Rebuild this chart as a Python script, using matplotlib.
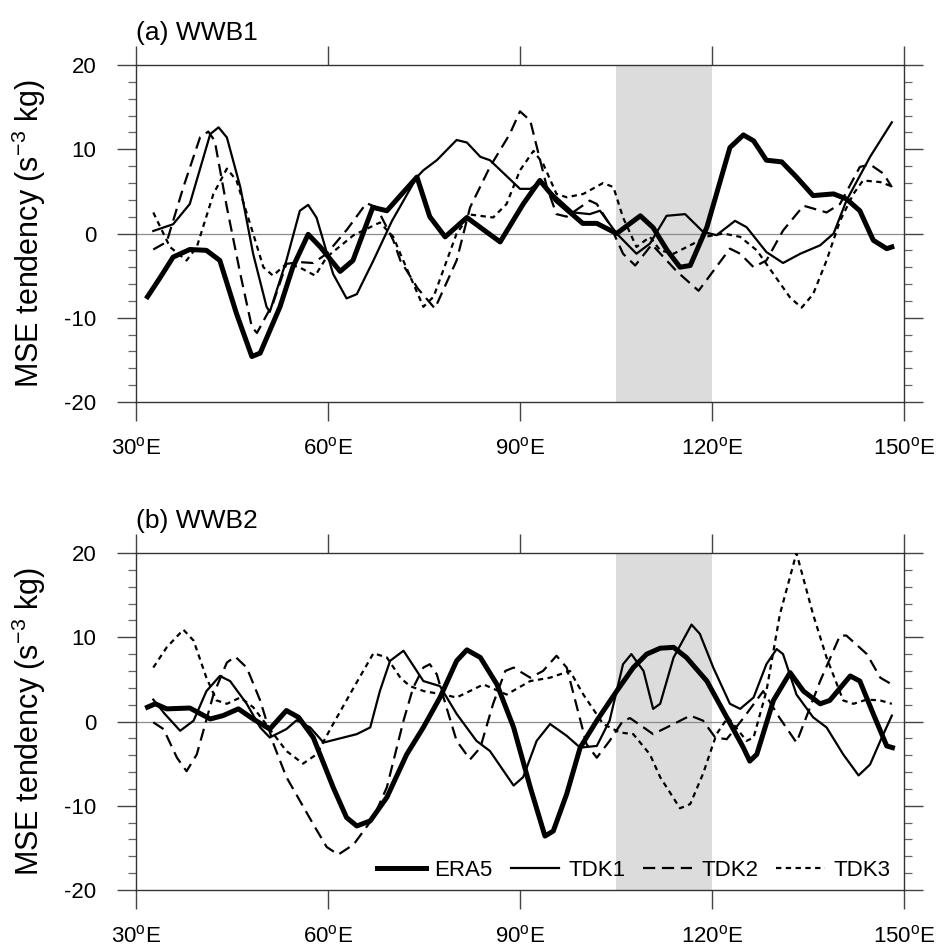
import matplotlib
matplotlib.use('Agg')
import matplotlib.pyplot as plt

plt.rcParams['font.family'] = 'Liberation Sans'
plt.rcParams['mathtext.fontset'] = 'custom'
plt.rcParams['mathtext.rm'] = 'Liberation Sans'
plt.rcParams['mathtext.it'] = 'Liberation Sans:italic'
plt.rcParams['mathtext.default'] = 'regular'
plt.rcParams['axes.unicode_minus'] = False

# ---- panel (a) WWB1 ----
a_era5_lon = [31.8, 33.8, 35.8, 38.4, 41.0, 43.1, 45.7, 48.1, 49.4, 52.5, 54.5, 56.9, 58.8, 61.9, 63.9,
              67.0, 69.2, 71.3, 73.9, 75.9, 78.3, 81.7, 84.2, 86.9, 90.5, 93.1, 95.7, 99.8, 102.0, 105.1,
              108.8, 110.8, 113.0, 115.0, 116.6, 119.2, 122.8, 124.9, 126.5, 128.5, 130.9, 133.2, 135.8,
              139.0, 141.0, 143.1, 145.2, 147.3, 148.1]
a_era5 = [-7.5, -5.2, -2.8, -1.9, -2.0, -3.2, -9.5, -14.6, -14.2, -8.7, -4.0, -0.1, -1.6, -4.5, -3.2,
          3.1, 2.7, 4.5, 6.7, 2.0, -0.4, 1.9, 0.5, -1.0, 3.5, 6.3, 3.9, 1.2, 1.2, 0.0,
          2.1, 0.7, -2.0, -4.0, -3.8, 0.75, 10.2, 11.7, 11.0, 8.7, 8.5, 6.7, 4.5,
          4.7, 4.1, 2.7, -0.8, -1.8, -1.6]

a_tdk1_lon = [32.7, 35.8, 38.4, 41.6, 42.9, 44.2, 46.3, 48.3, 50.4, 50.9, 53.5, 55.6, 56.9, 58.2, 60.8,
              62.9, 64.5, 67.1, 70.0, 73.9, 74.9, 77.0, 80.1, 81.7, 83.8, 85.3, 90.0, 91.6, 93.1, 95.7,
              98.3, 100.9, 102.5, 105.1, 108.2, 110.3, 112.9, 115.8, 118.6, 120.7, 123.6, 125.4, 128.5,
              131.1, 133.8, 136.9, 139.0, 141.0, 144.7, 148.1]
a_tdk1 = [0.3, 1.1, 3.5, 11.8, 12.6, 11.4, 5.5, -2.4, -8.7, -9.3, -3.2, 2.7, 3.4, 1.9, -4.8,
          -7.7, -7.2, -3.2, 1.5, 6.7, 7.5, 8.7, 11.1, 10.8, 9.1, 8.7, 5.3, 5.3, 6.1, 4.3,
          2.5, 2.3, 2.7, 0.0, -2.4, -1.2, 2.1, 2.3, 0.2, -0.2, 1.5, 0.75, -2.2,
          -3.5, -2.4, -1.4, 0.0, 3.9, 9.1, 13.2]

a_tdk2_lon = [32.7, 34.8, 37.4, 40.0, 41.3, 42.3, 44.2, 46.3, 48.1, 48.9, 51.4, 53.5, 55.6, 57.7, 59.8,
              63.0, 66.0, 67.6, 70.2, 71.3, 74.0, 76.7, 80.1, 82.2, 85.3, 88.4, 90.0, 91.6, 94.2, 95.7,
              97.3, 100.9, 102.0, 104.0, 106.1, 108.0, 110.6, 114.5, 117.9, 122.8, 124.4, 126.5, 128.5,
              131.1, 134.3, 137.9, 140.0, 143.1, 144.7, 146.8, 148.1]
a_tdk2 = [-1.9, -1.0, 5.5, 11.4, 12.1, 11.0, 3.1, -4.8, -11.1, -11.8, -8.3, -3.6, -3.4, -3.5, -2.4,
          0.5, 3.6, 3.1, -0.8, -3.2, -6.5, -8.9, -3.2, 3.1, 7.9, 11.8, 14.5, 13.4, 5.5, 2.3,
          2.0, 3.9, 3.5, 1.1, -2.4, -3.8, -1.3, -4.5, -6.8, -1.8, -2.4, -4.0, -3.2,
          0.35, 3.3, 2.5, 3.5, 7.9, 8.2, 7.1, 5.5]

a_tdk3_lon = [32.7, 35.3, 37.9, 39.5, 42.1, 44.2, 45.7, 48.3, 49.9, 51.4, 53.5, 55.5, 58.0, 59.8, 64.0,
              68.1, 70.2, 71.3, 74.9, 76.5, 80.1, 82.2, 85.8, 87.9, 90.0, 92.1, 93.6, 95.7, 97.3, 99.9,
              103.0, 104.6, 106.1, 108.2, 110.3, 111.9, 114.0, 117.1, 119.2, 121.8, 124.4, 127.0, 129.6,
              132.2, 134.0, 135.8, 137.9, 140.0, 142.1, 143.6, 146.3, 148.1]
a_tdk3 = [2.5, -1.6, -3.2, -1.6, 4.7, 7.7, 6.3, 0.0, -4.0, -5.0, -3.6, -4.0, -5.0, -2.8, -0.2,
          1.3, -0.4, -2.4, -8.7, -7.5, 0.0, 2.25, 1.9, 3.5, 7.5, 9.8, 8.3, 4.7, 4.3, 4.7,
          6.0, 5.5, 1.9, -1.6, -0.4, -2.0, -2.4, -1.2, -0.35, 0.0, -0.4, -2.0, -4.8,
          -7.6, -8.8, -7.2, -3.2, 1.5, 4.7, 6.3, 6.1, 5.6]

# ---- panel (b) WWB2 ----
b_era5_lon = [31.8, 33.0, 34.8, 38.4, 41.6, 43.6, 46.0, 48.3, 50.9, 53.5, 55.4, 57.7, 60.8, 62.9, 64.5,
              66.6, 69.2, 72.3, 74.9, 77.5, 80.1, 81.7, 83.8, 86.4, 89.0, 91.6, 93.9, 95.2, 97.3, 99.4,
              102.0, 105.1, 107.7, 109.8, 111.9, 114.0, 116.0, 119.2, 122.3, 124.9, 125.9, 127.0, 129.6,
              132.2, 134.3, 136.9, 138.4, 141.6, 143.1, 145.2, 147.3, 148.2]
b_era5 = [1.7, 2.1, 1.5, 1.6, 0.3, 0.7, 1.5, 0.3, -0.9, 1.3, 0.5, -1.9, -7.8, -11.4, -12.4,
          -11.8, -9.0, -3.9, -0.7, 2.85, 7.2, 8.5, 7.6, 4.4, -0.7, -7.8, -13.6, -13.0, -8.6, -3.1,
          0.1, 3.6, 6.4, 8.0, 8.7, 8.8, 7.6, 4.8, 0.5, -3.1, -4.7, -3.9, 2.5,
          5.8, 3.6, 2.1, 2.5, 5.4, 4.8, 0.9, -2.9, -3.1]

b_tdk1_lon = [32.7, 34.5, 36.9, 39.0, 41.0, 43.1, 44.7, 47.3, 49.4, 50.9, 53.5, 55.1, 57.2, 59.3, 61.9,
              64.5, 66.6, 68.1, 69.7, 71.8, 74.9, 77.5, 80.1, 83.2, 85.3, 89.0, 90.5, 92.6, 94.7, 97.3,
              99.4, 102.0, 104.0, 106.1, 107.4, 109.3, 110.8, 111.9, 114.0, 116.8, 118.1, 120.2, 122.8,
              124.4, 126.5, 128.5, 130.1, 131.1, 133.2, 135.8, 137.9, 140.5, 142.9, 144.7, 146.3, 148.1]
b_tdk1 = [2.6, 0.9, -1.1, 0.1, 3.6, 5.4, 4.8, 2.1, -0.7, -1.9, -0.9, 0.15, -0.7, -2.5, -2.0,
          -1.5, -0.7, 3.6, 7.2, 8.4, 4.8, 4.2, 0.9, -2.3, -3.5, -7.6, -6.6, -2.3, -0.3, -1.7,
          -3.1, -2.9, 0.1, 6.8, 8.0, 6.0, 1.5, 2.1, 7.6, 11.5, 10.4, 6.4, 2.1,
          1.5, 2.85, 6.8, 8.6, 8.0, 3.2, 0.5, -0.7, -3.9, -6.4, -5.1, -2.3, 0.7]

b_tdk2_lon = [32.7, 34.3, 36.4, 37.9, 39.5, 42.1, 44.2, 45.5, 47.3, 49.4, 51.5, 53.5, 55.6, 57.7, 59.8,
              61.6, 64.0, 67.1, 69.2, 71.8, 73.3, 74.9, 75.9, 77.0, 78.5, 80.1, 82.2, 83.8, 85.8, 87.7,
              89.0, 91.6, 93.6, 95.7, 97.3, 98.9, 100.4, 102.0, 104.0, 106.1, 107.2, 109.3, 110.8,
              114.0, 116.6, 118.6, 120.5, 122.3, 125.0, 128.0, 130.5, 133.2, 136.9, 140.0, 141.0,
              144.2, 146.3, 148.1]
b_tdk2 = [-0.1, -0.9, -4.3, -5.9, -3.9, 3.2, 7.0, 7.7, 6.4, 2.5, -2.7, -6.6, -9.4, -12.2, -14.9,
          -15.8, -14.6, -11.4, -7.8, 0.1, 4.0, 6.4, 6.8, 5.6, 1.7, -2.3, -4.5, -3.1, 2.1, 6.0,
          6.4, 5.2, 6.0, 7.8, 6.4, 1.7, -2.7, -4.3, -2.3, 0.1, 0.4, -0.7, -1.5,
          -0.3, 0.7, 0.1, -1.9, -2.1, 0.5, 3.6, 0.5, -2.5, 4.8, 10.2, 10.2,
          8.0, 5.2, 4.4]

b_tdk3_lon = [32.7, 34.8, 37.4, 39.0, 41.0, 42.6, 44.2, 46.3, 48.3, 50.9, 53.5, 56.1, 58.2, 60.8, 64.0,
              67.1, 69.2, 71.3, 72.8, 75.0, 78.0, 80.1, 84.3, 87.9, 91.6, 94.7, 97.8, 99.9, 103.0, 105.6,
              107.7, 110.3, 111.9, 115.0, 116.6, 118.6, 120.7, 122.5, 125.4, 126.5, 128.5, 130.6, 133.2,
              135.8, 137.9, 140.5, 142.1, 144.2, 146.3, 148.1]
b_tdk3 = [6.4, 8.8, 10.9, 9.6, 5.2, 2.5, 2.1, 2.85, 1.7, -0.9, -3.5, -5.0, -3.9, -0.3, 4.0,
          8.1, 7.6, 5.2, 4.2, 3.6, 3.2, 2.85, 4.4, 3.2, 4.8, 5.2, 6.0, 3.2, -0.3, -1.3,
          -1.5, -3.9, -6.6, -10.3, -9.8, -6.2, -1.5, 0.5, -2.3, -1.9, 3.6, 12.7, 20.0,
          12.7, 7.6, 2.5, 2.1, 2.6, 2.5, 2.1]

xticks = [30, 60, 90, 120, 150]
xticklabels = ['30$^{o}$E', '60$^{o}$E', '90$^{o}$E', '120$^{o}$E', '150$^{o}$E']
yticks = [-20, -10, 0, 10, 20]
shade = (105, 120)
names = ['ERA5', 'TDK1', 'TDK2', 'TDK3']


def draw_panel(ax, data, title):
    ax.axvspan(shade[0], shade[1], color='#dcdcdc', lw=0, zorder=0)
    ax.axhline(0, color='#8c8c8c', lw=0.9, zorder=1)
    (l0, v0), (l1, v1), (l2, v2), (l3, v3) = data
    kw = dict(color='k', zorder=3, solid_joinstyle='round', dash_joinstyle='round')
    ax.plot(l0, v0, lw=3.6, label=names[0], **kw)
    ax.plot(l1, v1, lw=1.6, label=names[1], **kw)
    ax.plot(l2, v2, lw=1.6, dashes=(5.5, 3.0), label=names[2], **kw)
    ax.plot(l3, v3, lw=1.6, dashes=(2.4, 2.0), label=names[3], **kw)
    ax.set_xlim(30, 150)
    ax.set_ylim(-20, 20)
    ax.set_xticks(xticks)
    ax.set_xticklabels(xticklabels)
    ax.set_yticks(yticks)
    ax.set_yticks(range(-18, 20, 2), minor=True)
    ax.tick_params(axis='x', which='major', direction='out', length=13.5, width=1.0,
                   top=True, bottom=True, labelsize=16, pad=12, color='#444444')
    ax.tick_params(axis='y', which='major', direction='out', length=13.5, width=1.0,
                   left=True, right=True, labelsize=16, pad=15, color='#444444')
    ax.tick_params(axis='y', which='minor', direction='out', length=5.5, width=0.9,
                   left=True, right=True, color='#666666')
    for s in ax.spines.values():
        s.set_linewidth(1.0)
        s.set_color('#333333')
    ax.set_ylabel('MSE tendency (s$^{-3}$ kg)', fontsize=22)
    ax.yaxis.set_label_coords(-0.115, 0.5)
    ax.annotate(title, xy=(0, 1), xycoords='axes fraction', xytext=(0, 18),
                textcoords='offset points', ha='left', va='baseline', fontsize=19)


fig = plt.figure(figsize=(9.39, 9.51), dpi=100)
ax1 = fig.add_axes([136 / 939, 1 - 402 / 951, 768 / 939, 337 / 951])
ax2 = fig.add_axes([136 / 939, 1 - 890 / 951, 768 / 939, 337 / 951])

draw_panel(ax1, [(a_era5_lon, a_era5), (a_tdk1_lon, a_tdk1),
                 (a_tdk2_lon, a_tdk2), (a_tdk3_lon, a_tdk3)], '(a) WWB1')
draw_panel(ax2, [(b_era5_lon, b_era5), (b_tdk1_lon, b_tdk1),
                 (b_tdk2_lon, b_tdk2), (b_tdk3_lon, b_tdk3)], '(b) WWB2')

ax2.legend(loc='center', bbox_to_anchor=(0.648, 0.059), ncol=4, frameon=False,
           fontsize=16, handlelength=2.2, handletextpad=0.4, columnspacing=0.8,
           borderpad=0, borderaxespad=0)

fig.savefig('out.png', dpi=100)
